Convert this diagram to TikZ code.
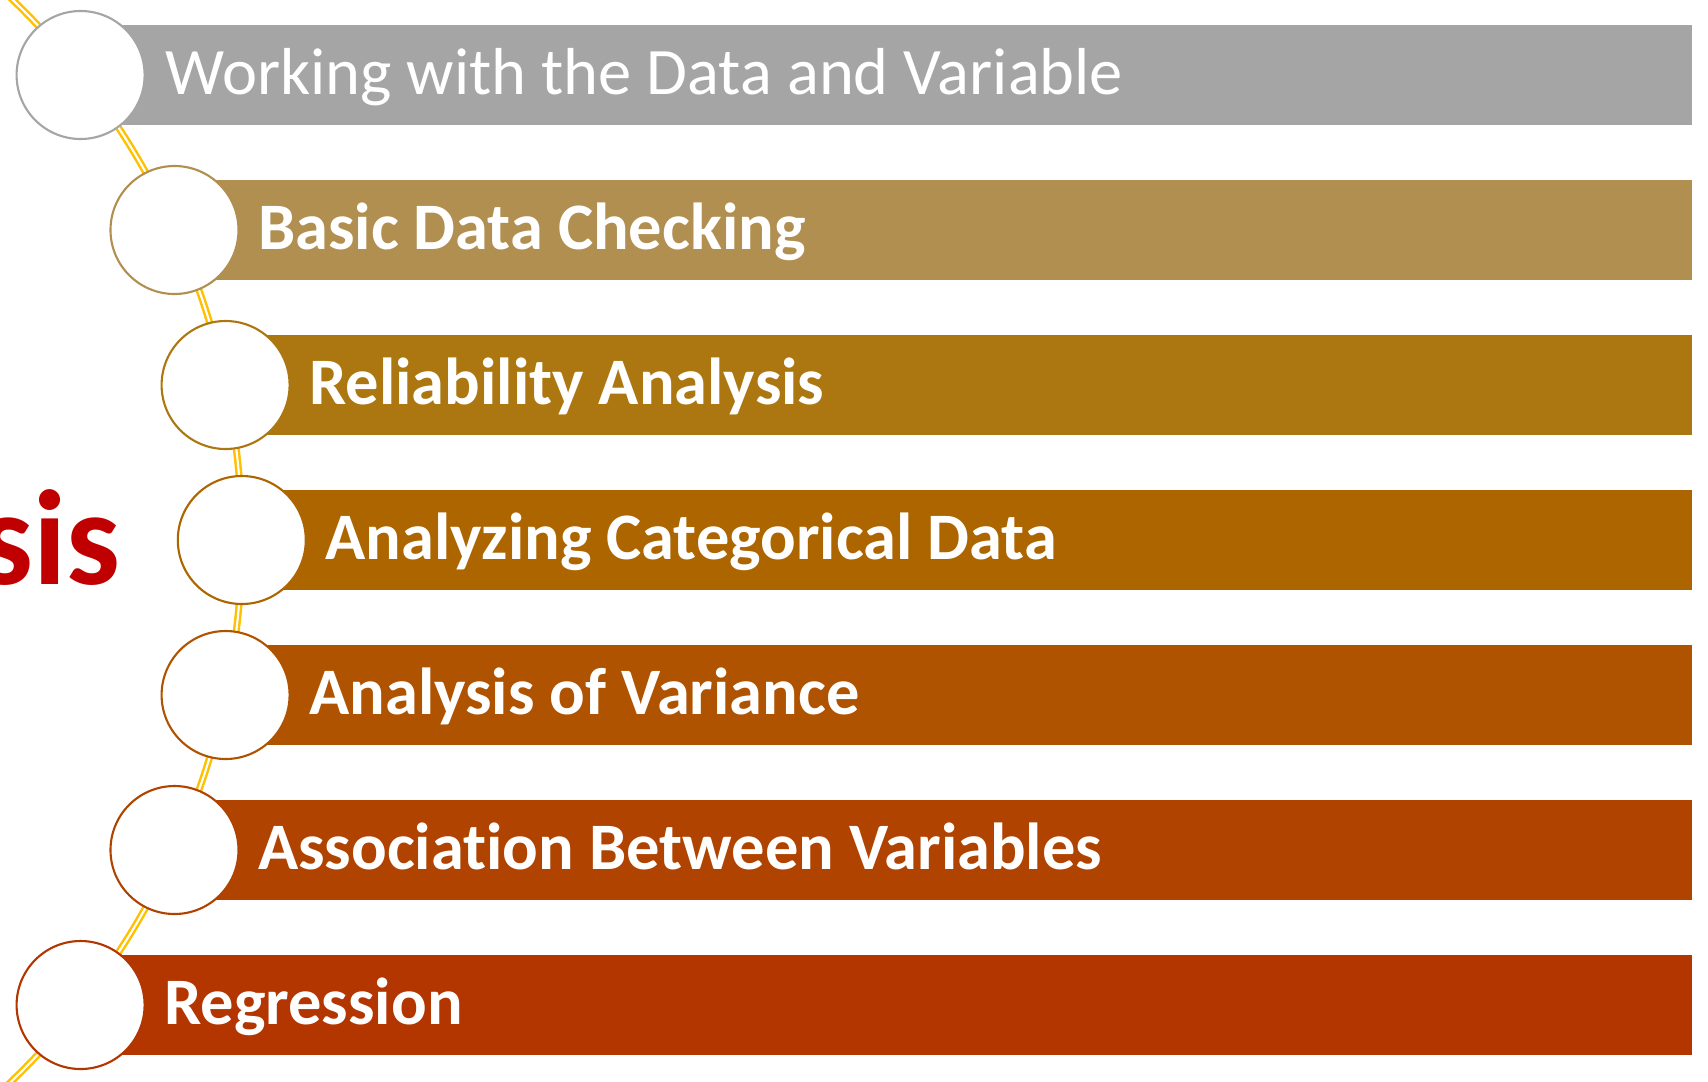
\documentclass[tikz,border=0pt]{standalone}
\usepackage{fontspec}
\setmainfont{Carlito}[Ligatures=NoCommon]

\definecolor{stepA}{HTML}{A5A5A5}
\definecolor{stepB}{HTML}{B08F50}
\definecolor{stepC}{HTML}{AC7710}
\definecolor{stepD}{HTML}{AD6500}
\definecolor{stepE}{HTML}{AF5300}
\definecolor{stepF}{HTML}{B04300}
\definecolor{stepG}{HTML}{B33500}
\definecolor{railyellow}{HTML}{FFC000}
\definecolor{titlered}{HTML}{C00000}

\tikzset{
    ring/.style={draw, circle, fill=white, line width=0.6pt,
                 minimum size=12.8mm, inner sep=0pt},
    steptext/.style={anchor=base west, inner sep=0pt, text=white,
                     font=\fontsize{18.9}{20}\selectfont\bfseries},
    rail/.style={draw=railyellow, double=white, line width=0.7pt,
                 double distance=0.6pt},
}

\begin{document}
\begin{tikzpicture}[x=0.1mm, y=-0.1mm]
    \useasboundingbox (0,0) rectangle (1708,1081);

    % gelbe Schiene hinter den Kreisen
    \draw[rail] (-509.5,540) ++(-50:751.3) arc[start angle=-50, end angle=50, radius=751.3];

    % Balken
    \fill[stepA] (80.6,25)   rectangle (1692,125);
    \fill[stepB] (174.5,180) rectangle (1692,280);
    \fill[stepC] (225.6,335) rectangle (1692,435);
    \fill[stepD] (241.8,490) rectangle (1692,590);
    \fill[stepE] (225.6,645) rectangle (1692,745);
    \fill[stepF] (174.5,800) rectangle (1692,900);
    \fill[stepG] (80.6,955)  rectangle (1692,1055);

    % Kreise
    \node[ring, draw=stepA] (c1) at (80.6,75) {};
    \node[ring, draw=stepB] (c2) at (174.5,230) {};
    \node[ring, draw=stepC] (c3) at (225.6,385) {};
    \node[ring, draw=stepD] (c4) at (241.8,540) {};
    \node[ring, draw=stepE] (c5) at (225.6,695) {};
    \node[ring, draw=stepF] (c6) at (174.5,850) {};
    \node[ring, draw=stepG] (c7) at (80.6,1005) {};

    % Beschriftungen
    \node[steptext, font=\fontsize{18.9}{21}\selectfont] (t1) at (165,94)
        {Working with the Data and Variable};
    \node[steptext] (t2) at (257.5,249) {Basic Data Checking};
    \node[steptext] (t3) at (308.6,404) {Reliability Analysis};
    \node[steptext] (t4) at (324.8,559) {Analyzing Categorical Data};
    \node[steptext] (t5) at (308.6,714) {Analysis of Variance};
    \node[steptext] (t6) at (257.5,869) {Association Between Variables};
    \node[steptext] (t7) at (163.6,1024) {Regression};

    % Titel (links abgeschnitten)
    \node[anchor=base east, inner sep=0pt, text=titlered,
          font=\fontsize{38.5}{40}\selectfont\bfseries] (title) at (121,584) {sis};

\end{tikzpicture}
\end{document}
